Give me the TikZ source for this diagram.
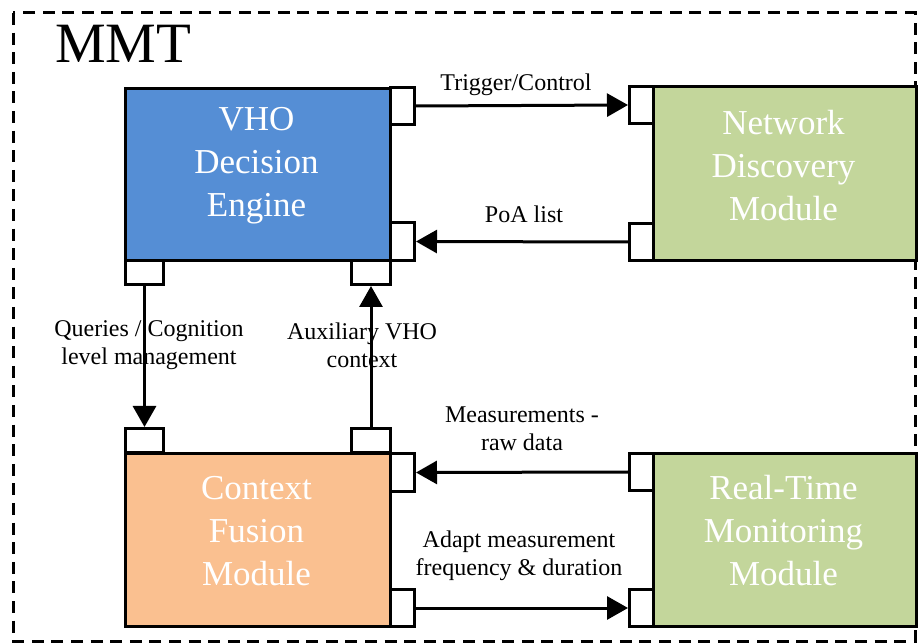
\documentclass[tikz,border=0pt]{standalone}
\usepackage{fontspec}
\setmainfont{Liberation Serif}
\usetikzlibrary{arrows.meta}
\definecolor{vhoblue}{HTML}{558ED5}
\definecolor{cfmorange}{HTML}{FAC090}
\definecolor{modgreen}{HTML}{C3D69B}
\begin{document}
\begin{tikzpicture}[x=1pt,y=-1pt,
  box/.style={draw=black,line width=3.4pt,inner sep=0pt,anchor=north west},
  port/.style={draw=black,fill=white,line width=3pt,inner sep=0pt,anchor=north west},
  hport/.style={port,minimum width=24pt,minimum height=37pt},
  vport/.style={port,minimum width=38pt,minimum height=24pt},
  btext/.style={text=white,font=\fontsize{35}{43}\selectfont,align=center},
  lab/.style={font=\fontsize{24}{28}\selectfont,align=center,inner sep=0pt},
  conn/.style={line width=3pt,-{Triangle[length=21pt,width=23pt]}}
]
\useasboundingbox (0,0) rectangle (922,644);
% frame
\draw[line width=3pt,dash pattern=on 12pt off 7.6pt] (13,13) rectangle (915,641);
\node[font=\fontsize{57}{60}\selectfont,anchor=base west,inner sep=0pt] (mmt) at (55,63) {MMT};
% main boxes
\node[box,fill=vhoblue,minimum width=265pt,minimum height=172pt] (vho) at (124,87) {};
\node[box,fill=cfmorange,minimum width=265pt,minimum height=173pt] (cfm) at (124,452) {};
\node[box,fill=modgreen,minimum width=263pt,minimum height=174pt] (ndm) at (652,85) {};
\node[box,fill=modgreen,minimum width=263pt,minimum height=173pt] (rtm) at (652,452) {};
% box texts
\node[btext] (vhot) at (256.5,166) {VHO\\Decision\\Engine};
\node[btext] (cfmt) at (256.5,531) {Context\\Fusion\\Module};
\node[btext] (ndmt) at (783.5,166) {Network\\Discovery\\Module};
\node[btext] (rtmt) at (783.5,531) {Real-Time\\Monitoring\\Module};
% ports
\node[hport] (vr1) at (389,86) {};
\node[hport,minimum height=38pt] (vr2) at (389,221) {};
\node[vport] (vb1) at (124,259) {};
\node[vport,minimum width=39pt] (vb2) at (350,259) {};
\node[vport] (ct1) at (124,427) {};
\node[vport,minimum width=39pt] (ct2) at (350,427) {};
\node[hport,minimum height=38pt] (cr1) at (389,452) {};
\node[hport] (cr2) at (389,588) {};
\node[hport] (nl1) at (628,85) {};
\node[hport] (nl2) at (628,222) {};
\node[hport] (rl1) at (628,452) {};
\node[hport] (rl2) at (628,588) {};
% connectors
\draw[conn] (vr1.east) -- (nl1.west);
\draw[conn] (nl2.west) -- (vr2.east);
\draw[conn] (vb1.south) -- (ct1.north);
\draw[conn] (ct2.north) -- (vb2.south);
\draw[conn] (rl1.west) -- (cr1.east);
\draw[conn] (cr2.east) -- (rl2.west);
% labels
\node[lab] (l1) at (516,85) {Trigger/Control};
\node[lab] (l2) at (524,214) {PoA list};
\node[lab] (l3) at (149,345) {Queries / Cognition\\level management};
\node[lab] (l4) at (362,345) {Auxiliary VHO\\context};
\node[lab] (l5) at (522,429) {Measurements -\\raw data};
\node[lab] (l6) at (519,556) {Adapt measurement\\frequency \& duration};
\end{tikzpicture}
\end{document}
